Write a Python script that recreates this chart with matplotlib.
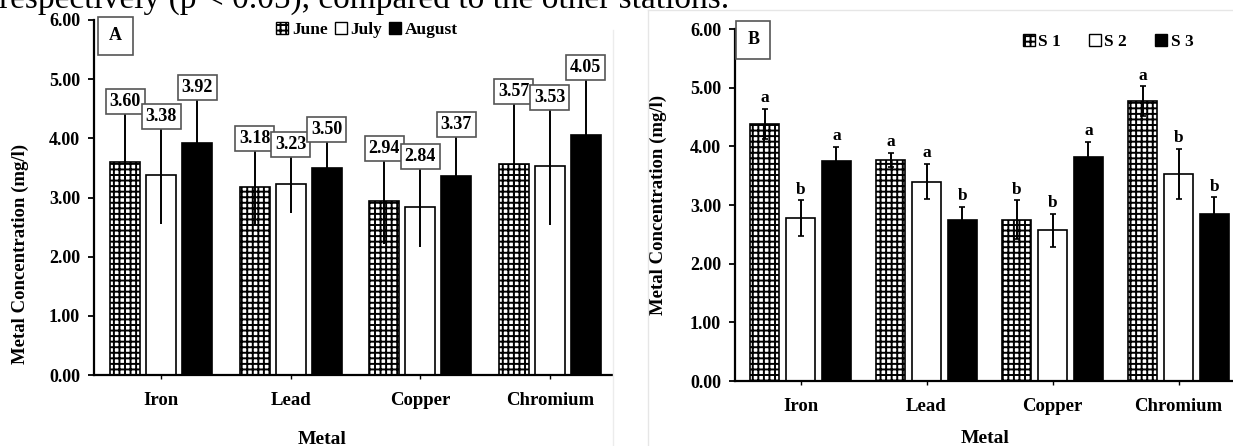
import matplotlib
matplotlib.use('Agg')
import matplotlib.pyplot as plt
from matplotlib.patches import Patch
from matplotlib.lines import Line2D
import numpy as np

plt.rcParams['font.family'] = ['Liberation Serif', 'DejaVu Serif']
plt.rcParams['font.weight'] = 'bold'
plt.rcParams['axes.labelweight'] = 'bold'
plt.rcParams['hatch.linewidth'] = 1.4

# categories
metals = ['Iron', 'Lead', 'Copper', 'Chromium']

# panel A: months
months = ['June', 'July', 'August']
june = [3.60, 3.18, 2.94, 3.57]
july = [3.38, 3.23, 2.84, 3.53]
august = [3.92, 3.50, 3.37, 4.05]
june_sd = [0.86, 0.65, 0.72, 1.06]
july_sd = [0.82, 0.50, 0.68, 0.99]
august_sd = [0.77, 0.48, 0.70, 0.98]

# panel B: stations
stations = ['S 1', 'S 2', 'S 3']
s1 = [4.38, 3.77, 2.75, 4.77]
s2 = [2.78, 3.40, 2.57, 3.53]
s3 = [3.75, 2.75, 3.82, 2.85]
s1_sd = [0.26, 0.12, 0.33, 0.25]
s2_sd = [0.30, 0.30, 0.28, 0.42]
s3_sd = [0.24, 0.22, 0.25, 0.28]
s1_letters = ['a', 'a', 'b', 'a']
s2_letters = ['b', 'a', 'b', 'b']
s3_letters = ['a', 'b', 'a', 'b']

yticks = [0, 1, 2, 3, 4, 5, 6]

W, H = 1233, 446
fig = plt.figure(figsize=(W / 100, H / 100), dpi=100)

# caption fragment at the top (cut off in the source image)
fig.text(-0.001, 1 - 8 / H, 'respectively (p < 0.05), compared to the other stations.',
         fontsize=24, fontweight='normal', va='baseline', ha='left')

# faint frame lines around the panels
fig.add_artist(Line2D([648 / W, 648 / W], [0, 1 - 10 / H], color='#e6e6e6', lw=1))
fig.add_artist(Line2D([648 / W, 1], [1 - 10 / H, 1 - 10 / H], color='#e6e6e6', lw=1))
fig.add_artist(Line2D([613 / W, 613 / W], [0, 1 - 30 / H], color='#ececec', lw=1))

axA = fig.add_axes([94 / W, 1 - 375 / H, 518 / W, 355 / H])
axB = fig.add_axes([735 / W, 1 - 381 / H, 504 / W, 352 / H])

x = np.arange(len(metals))
styles = [dict(color='white', hatch='+++', edgecolor='black'),
          dict(color='white', edgecolor='black'),
          dict(color='black', edgecolor='black')]


def style_axes(ax):
    ax.set_xlim(-0.52, 3.48)
    ax.set_ylim(0, 6)
    ax.set_yticks(yticks)
    ax.set_yticklabels(['%.2f' % v for v in yticks])
    ax.set_xticks(x)
    ax.set_xticklabels(metals)
    ax.spines['top'].set_visible(False)
    ax.spines['right'].set_visible(False)
    ax.spines['left'].set_linewidth(1.6)
    ax.spines['bottom'].set_linewidth(1.6)
    ax.tick_params(axis='y', direction='out', length=4, width=1.3, pad=6, labelsize=13)
    ax.tick_params(axis='x', direction='out', length=3, width=1.0, pad=9, labelsize=13.5)
    ax.set_ylabel('Metal Concentration (mg/l)', fontsize=13.5)
    ax.set_xlabel('Metal', fontsize=14)
    ax.yaxis.label.set_va('center')
    ax.xaxis.label.set_va('center')


# ---- panel A ----
wA, offA = 0.232, 0.278
for i, (vals, sds, st) in enumerate(zip([june, july, august], [june_sd, july_sd, august_sd], styles)):
    pos = x + (i - 1) * offA
    axA.bar(pos, vals, width=wA, linewidth=1.2, zorder=2, **st)
    axA.errorbar(pos, vals, yerr=sds, fmt='none', ecolor='black', elinewidth=1.4,
                 capsize=0, zorder=3)
    for p, v, s in zip(pos, vals, sds):
        axA.annotate('%.2f' % v, (p, v + s), xytext=(0, 1), textcoords='offset points',
                     ha='center', va='bottom', fontsize=13,
                     bbox=dict(boxstyle='square,pad=0.22', fc='white', ec='#555555', lw=1.2),
                     zorder=4)
style_axes(axA)
axA.yaxis.set_label_coords(-0.143, 0.34)
axA.xaxis.set_label_coords(0.44, -0.183)
axA.text(0.041, 0.955, 'A', transform=axA.transAxes, ha='center', va='center', fontsize=13,
         bbox=dict(boxstyle='square,pad=0.6', fc='white', ec='#555555', lw=1.2))
handlesA = [Patch(facecolor='white', hatch='+++', edgecolor='black', label=months[0]),
            Patch(facecolor='white', edgecolor='black', label=months[1]),
            Patch(facecolor='black', edgecolor='black', label=months[2])]
axA.legend(handles=handlesA, loc='center', bbox_to_anchor=(0.527, 0.972), ncol=3,
           frameon=False, fontsize=12.5, handlelength=0.7, handleheight=0.7,
           handletextpad=0.2, columnspacing=0.4, borderpad=0)

# ---- panel B ----
wB, offB = 0.236, 0.285
for i, (vals, sds, lets, st) in enumerate(zip([s1, s2, s3], [s1_sd, s2_sd, s3_sd],
                                             [s1_letters, s2_letters, s3_letters], styles)):
    pos = x + (i - 1) * offB
    axB.bar(pos, vals, width=wB, linewidth=1.2, zorder=2, **st)
    axB.errorbar(pos, vals, yerr=sds, fmt='none', ecolor='black', elinewidth=1.4,
                 capsize=2, capthick=1.2, zorder=3)
    for p, v, s, l in zip(pos, vals, sds, lets):
        axB.annotate(l, (p, v + s), xytext=(0, 2), textcoords='offset points',
                     ha='center', va='bottom', fontsize=12.5)
style_axes(axB)
axB.yaxis.set_label_coords(-0.153, 0.5)
axB.xaxis.set_label_coords(0.496, -0.162)
axB.text(0.036, 0.969, 'B', transform=axB.transAxes, ha='center', va='center', fontsize=13,
         bbox=dict(boxstyle='square,pad=0.6', fc='white', ec='#555555', lw=1.2))
handlesB = [Patch(facecolor='white', hatch='+++', edgecolor='black', label=stations[0]),
            Patch(facecolor='white', edgecolor='black', label=stations[1]),
            Patch(facecolor='black', edgecolor='black', label=stations[2])]
axB.legend(handles=handlesB, loc='center', bbox_to_anchor=(0.74, 0.963), ncol=3,
           frameon=False, fontsize=12.5, handlelength=0.7, handleheight=0.7,
           handletextpad=0.2, columnspacing=1.6, borderpad=0)

fig.savefig('out.png', dpi=100)
